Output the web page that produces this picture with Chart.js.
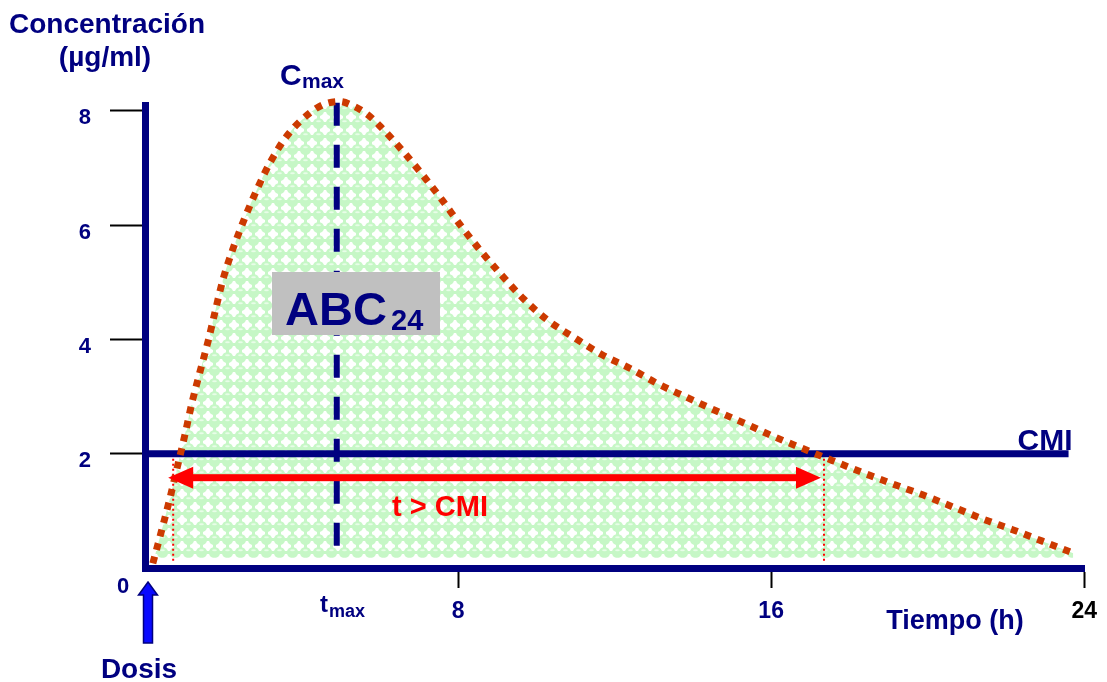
<!DOCTYPE html>
<html>
<head>
<meta charset="utf-8">
<script src="https://cdn.jsdelivr.net/npm/chart.js@4.4.0/dist/chart.umd.min.js"></script>
<style>
  html, body { margin: 0; padding: 0; background: #fff; }
  #wrap { width: 1107px; height: 682px; position: relative; }
</style>
</head>
<body>
<div id="wrap"><canvas id="pkChart"></canvas></div>
<script>
// concentration-time profile (h, µg/ml)
const timeH = [0.2, 0.43, 0.64, 0.82, 1.02, 1.2, 1.4, 1.61, 1.79, 1.99, 2.24, 2.53, 2.86, 3.21, 3.65,
  4.23, 4.57, 4.97, 5.36, 5.71, 6.02, 6.58, 7.09, 7.6, 8.09, 8.6, 9.13, 9.67, 10.28, 10.97, 11.68,
  12.4, 13.11, 13.83, 14.59, 15.36, 16.1, 16.84, 17.6, 18.37, 19.11, 19.87, 20.64, 21.4, 22.17, 22.93, 23.72];
const concentration = [0.08, 0.67, 1.23, 1.75, 2.33, 2.89, 3.42, 3.96, 4.48, 5.04, 5.57, 6.09, 6.62, 7.11, 7.58,
  7.97, 8.11, 8.16, 8.07, 7.92, 7.72, 7.3, 6.88, 6.43, 5.97, 5.53, 5.11, 4.71, 4.34, 4.03, 3.73,
  3.49, 3.22, 2.99, 2.75, 2.52, 2.29, 2.08, 1.87, 1.66, 1.47, 1.28, 1.07, 0.86, 0.67, 0.47, 0.26];

const xTicks = [8, 16, 24];
const yTicks = [2, 4, 6, 8];

const cmi = 2;              // CMI level
const cmiLineEnd = 23.6;    // h, where the CMI line stops
const tMax = 4.9;           // h
const tmaxLine = [8.14, 0.35];
const tAboveCmi = [0.72, 17.35]; // h, curve crosses CMI
const arrowLevel = 1.58;
const fillBase = 0.18;

const navy = '#000080';
const font = size => 'bold ' + size + 'px "Liberation Sans", Arial, sans-serif';

Chart.defaults.font.family = '"Liberation Sans", Arial, sans-serif';

// light green bubbles with white gaps, like the original hatch
function makeDotPattern(ctx) {
  const c = document.createElement('canvas');
  c.width = 13; c.height = 13;
  const g = c.getContext('2d');
  g.fillStyle = '#ffffff';
  g.fillRect(0, 0, 13, 13);
  g.fillStyle = '#c6f7c6';
  g.beginPath(); g.arc(6.5, 6.5, 5.6, 0, Math.PI * 2); g.fill();
  g.fillRect(0, 5, 13, 3);
  g.fillRect(5, 0, 3, 13);
  g.fillStyle = '#e8fde8';
  g.beginPath(); g.ellipse(6.5, 4.3, 2.4, 1.0, 0, 0, Math.PI * 2); g.fill();
  return ctx.createPattern(c, 'repeat');
}

function text(ctx, str, x, y, size, color, align) {
  ctx.font = font(size);
  ctx.fillStyle = color;
  ctx.textAlign = align || 'left';
  ctx.textBaseline = 'alphabetic';
  ctx.fillText(str, x, y);
}

const annotations = {
  id: 'pkAnnotations',
  afterDatasetsDraw(chart) {
    const { ctx, scales: { x, y } } = chart;
    ctx.save();

    // t > CMI double arrow
    const ay = y.getPixelForValue(arrowLevel);
    const ax1 = x.getPixelForValue(tAboveCmi[0]) - 5;
    const ax2 = x.getPixelForValue(tAboveCmi[1]) - 3;
    const headLen = 25, headHalf = 11;
    ctx.fillStyle = '#ff0000';
    ctx.fillRect(ax1 + headLen - 2, ay - 3.5, ax2 - ax1 - 2 * headLen + 4, 7);
    ctx.beginPath();
    ctx.moveTo(ax1, ay); ctx.lineTo(ax1 + headLen, ay - headHalf); ctx.lineTo(ax1 + headLen, ay + headHalf);
    ctx.closePath(); ctx.fill();
    ctx.beginPath();
    ctx.moveTo(ax2, ay); ctx.lineTo(ax2 - headLen, ay - headHalf); ctx.lineTo(ax2 - headLen, ay + headHalf);
    ctx.closePath(); ctx.fill();
    text(ctx, 't > CMI', 440, 516, 29, '#ff0000', 'center');

    // ABC24 box
    ctx.fillStyle = '#c0c0c0';
    ctx.fillRect(272, 272, 168, 63);
    text(ctx, 'ABC', 285, 325, 47, navy);
    text(ctx, '24', 391, 330, 29, navy);

    ctx.restore();
  },
  afterDraw(chart) {
    const { ctx, scales: { x } } = chart;
    ctx.save();
    text(ctx, 'Concentración', 107, 33, 28, navy, 'center');
    text(ctx, '(µg/ml)', 105, 66, 28, navy, 'center');
    text(ctx, 'C', 280, 85, 30, navy);
    text(ctx, 'max', 302, 88, 21, navy);
    text(ctx, 't', 320, 612, 24, navy);
    text(ctx, 'max', 329, 617, 18, navy);
    text(ctx, 'CMI', 1045, 450, 30, navy, 'center');
    text(ctx, 'Tiempo (h)', 955, 629, 27, navy, 'center');
    text(ctx, '0', 123, 593, 22, navy, 'center');
    text(ctx, 'Dosis', 139, 678, 28, navy, 'center');

    // dose arrow
    const dx = x.getPixelForValue(0) + 3;
    ctx.beginPath();
    ctx.moveTo(dx, 582);
    ctx.lineTo(dx + 9.5, 595);
    ctx.lineTo(dx + 4.5, 595);
    ctx.lineTo(dx + 4.5, 643);
    ctx.lineTo(dx - 4.5, 643);
    ctx.lineTo(dx - 4.5, 595);
    ctx.lineTo(dx - 9.5, 595);
    ctx.closePath();
    ctx.fillStyle = '#0a0aff';
    ctx.fill();
    ctx.lineWidth = 1.5;
    ctx.strokeStyle = navy;
    ctx.stroke();
    ctx.restore();
  }
};

const ctx = document.getElementById('pkChart').getContext('2d');
const curvePoints = timeH.map((t, i) => ({ x: t, y: concentration[i] }));

new Chart(ctx, {
  type: 'scatter',
  data: {
    datasets: [
      {
        label: 'Concentración',
        data: curvePoints,
        showLine: true,
        borderColor: '#cc3a00',
        borderWidth: 7,
        borderDash: [7, 7],
        backgroundColor: makeDotPattern(ctx),
        fill: { value: fillBase },
        pointRadius: 0,
        cubicInterpolationMode: 'monotone',
        clip: false
      },
      {
        label: 'CMI',
        data: [{ x: 0, y: cmi }, { x: cmiLineEnd, y: cmi }],
        showLine: true,
        borderColor: navy,
        borderWidth: 7,
        pointRadius: 0
      },
      {
        label: 'tmax',
        data: [{ x: tMax, y: tmaxLine[0] }, { x: tMax, y: tmaxLine[1] }],
        showLine: true,
        borderColor: navy,
        borderWidth: 6,
        borderDash: [23, 19],
        pointRadius: 0,
        clip: false
      },
      {
        label: 'inicio',
        data: [{ x: tAboveCmi[0], y: cmi }, { x: tAboveCmi[0], y: 0.1 }],
        showLine: true,
        borderColor: '#ff0000',
        borderWidth: 2,
        borderDash: [2, 3],
        pointRadius: 0
      },
      {
        label: 'fin',
        data: [{ x: tAboveCmi[1], y: cmi }, { x: tAboveCmi[1], y: 0.1 }],
        showLine: true,
        borderColor: '#ff0000',
        borderWidth: 2,
        borderDash: [2, 3],
        pointRadius: 0
      }
    ]
  },
  options: {
    responsive: true,
    maintainAspectRatio: false,
    animation: false,
    layout: { padding: { left: 0, right: 21, top: 105, bottom: 0 } },
    plugins: {
      legend: { display: false },
      tooltip: { enabled: false },
      filler: { drawTime: 'beforeDatasetsDraw' }
    },
    scales: {
      x: {
        type: 'linear',
        min: 0,
        max: 24,
        afterBuildTicks: s => { s.ticks = xTicks.map(v => ({ value: v })); },
        afterFit: s => { s.height = 114; },
        grid: { drawOnChartArea: false, tickLength: 20, tickColor: '#000', tickWidth: 2 },
        border: { color: navy, width: 7 },
        ticks: {
          color: c => (c.tick && c.tick.value === 24 ? '#000' : navy),
          font: { size: 23, weight: 'bold' },
          padding: 10,
          maxRotation: 0,
          autoSkip: false
        }
      },
      y: {
        type: 'linear',
        min: 0,
        max: 8.1,
        afterBuildTicks: s => { s.ticks = yTicks.map(v => ({ value: v })); },
        afterFit: s => { s.width = 145; },
        grid: { drawOnChartArea: false, tickLength: 35, tickColor: '#000', tickWidth: 2 },
        border: { color: navy, width: 7 },
        ticks: {
          color: navy,
          font: { size: 22, weight: 'bold' },
          padding: 19,
          labelOffset: 7.5
        }
      }
    }
  },
  plugins: [annotations]
});
</script>
</body>
</html>
